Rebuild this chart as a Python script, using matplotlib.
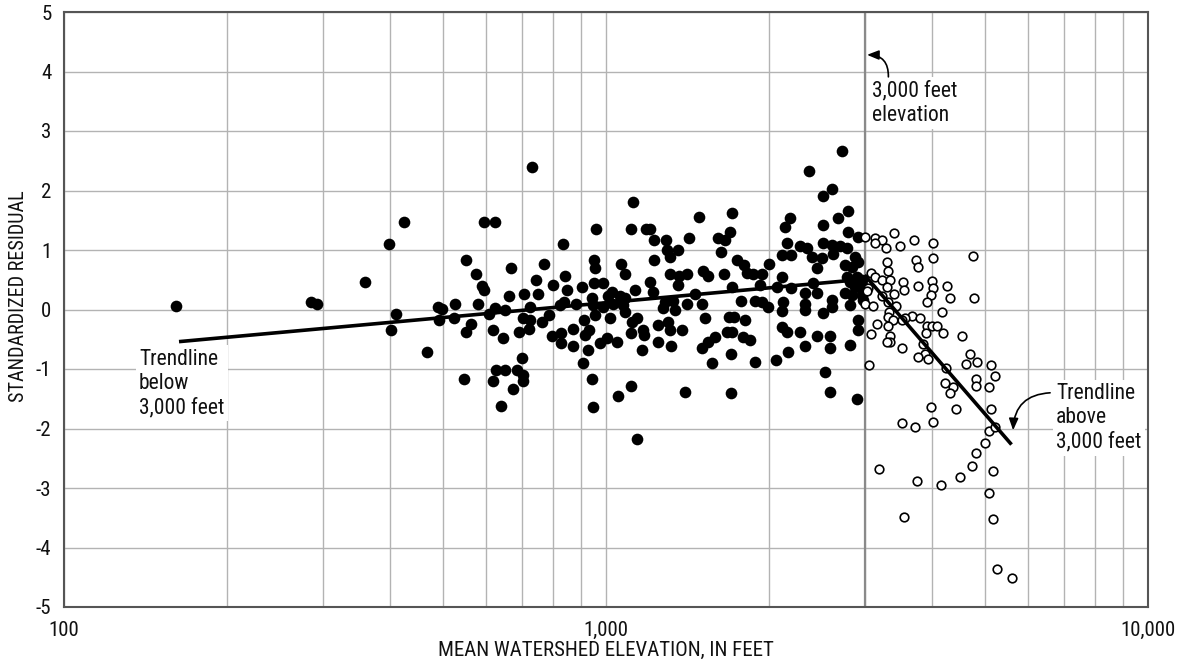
import matplotlib
matplotlib.use("Agg")
import matplotlib.pyplot as plt
from matplotlib import font_manager
from matplotlib.patches import FancyArrowPatch
from matplotlib.ticker import NullFormatter

# ---- pick a condensed sans if one is installed, else a narrow-ish sans ----
_fonts = font_manager.fontManager.ttflist
_names = {f.name for f in _fonts}
FAMILY = None
STRETCH = 'normal'
for cand in ['Liberation Sans Narrow', 'Arial Narrow', 'Roboto Condensed',
             'Open Sans Condensed', 'Noto Sans Condensed', 'DejaVu Sans Condensed']:
    if cand in _names:
        FAMILY = cand
        break
if FAMILY is None:
    for f in _fonts:
        st = f.stretch
        cond = (st in ('condensed', 'semi-condensed', 'extra-condensed')) or \
               (isinstance(st, (int, float)) and st < 500)
        if cond and f.name in ('Noto Sans', 'Roboto', 'Open Sans', 'DejaVu Sans', 'Inter', 'Lato') \
                and str(f.weight) in ('400', 'normal', 'regular', 'book'):
            FAMILY = f.name
            STRETCH = 'condensed'
            break
if FAMILY is None:
    FAMILY = 'Liberation Sans'
    FS_TICK, FS_TEXT, FS_LABEL, FS_YLABEL = 13, 13.5, 13, 13
else:
    FS_TICK, FS_TEXT, FS_LABEL, FS_YLABEL = 15, 15.5, 15, 14.5
plt.rcParams['font.family'] = [FAMILY, 'DejaVu Sans']
plt.rcParams['font.stretch'] = STRETCH

# ---- data: stations below 3,000 feet (filled circles) ----
below_elev = [
    161, 286, 293,
    729, 424, 398, 596, 624, 833, 359, 551, 576, 591, 596, 668, 770, 743, 798, 840, 847,
    663, 705, 750, 527, 581, 489, 498, 409, 402, 491, 524, 563, 552, 608, 623, 652, 618,
    646, 724, 704, 724, 720, 692, 763, 785, 823, 838, 879, 870, 796, 825, 825, 870, 467,
    699, 626, 652, 686, 704, 704, 618, 675, 547, 640,
    1123, 957, 1114, 1184, 1207, 1487, 1711, 1696, 1226, 1290, 1423, 1608, 1658, 1294, 1360,
    1313, 1226, 1632, 949, 1065, 1084, 954, 1313, 1362, 1409, 1512, 1545, 1651, 1743, 1800,
    1818, 1870, 1938, 2002, 1206, 1131, 1223, 1360, 1460, 1711, 1924, 2065, 949, 988, 902,
    1025, 941, 1010, 1062, 1084, 1032, 1076, 988, 948, 1285, 1332, 1276, 1341, 1409, 1502,
    1775, 1884, 1938, 1993, 1084, 954, 1017, 1139, 1116, 909, 1523, 1687, 1723, 1805, 1303,
    1249, 1313, 1380, 1172, 1177, 1111, 932, 913, 1670, 1706, 1792, 1844, 1589, 1545, 1502,
    974, 1003, 1047, 1246, 1317, 1163, 928, 1699, 1567, 1884, 2059, 907, 941, 1054, 1112,
    948, 1399, 1699, 1142,
    2723, 2373, 2610, 2518, 2800, 2684, 2186, 2140, 2518, 2800, 2922, 2155, 2281, 2346, 2518,
    2610, 2703, 2781, 2199, 2108, 2397, 2501, 2627, 2881, 2922, 2761, 2841, 2448, 2781, 2902,
    2964, 2108, 2413, 2821, 2881, 2984, 2199, 2448, 2329, 2761, 2841, 2964, 2124, 2610, 2329,
    2821, 2984, 2610, 2329, 2518, 2108, 2922, 2922, 2108, 2155, 2281, 2448, 2591, 2591, 2821,
    2329, 2169, 2536, 2591, 2902,
]
below_resid = [
    0.06, 0.13, 0.09,
    2.40, 1.47, 1.10, 1.47, 1.47, 1.10, 0.46, 0.83, 0.59, 0.40, 0.32, 0.70, 0.76, 0.50, 0.42, 0.56, 0.33,
    0.23, 0.26, 0.26, 0.09, 0.09, 0.04, 0.01, -0.08, -0.34, -0.18, -0.15, -0.24, -0.38, -0.08, 0.03, -0.01, -0.34,
    -0.48, 0.04, -0.15, -0.18, -0.32, -0.38, -0.21, -0.10, 0.08, 0.13, 0.10, -0.32, -0.45, -0.39, -0.56, -0.61, -0.71,
    -0.82, -1.02, -1.02, -1.02, -1.10, -1.20, -1.20, -1.34, -1.17, -1.62,
    1.80, 1.36, 1.36, 1.36, 1.36, 1.56, 1.63, 1.31, 1.17, 1.17, 1.20, 1.20, 1.17, 1.00, 1.00,
    0.88, 0.83, 0.97, 0.83, 0.76, 0.59, 0.69, 0.59, 0.56, 0.59, 0.64, 0.56, 0.59, 0.83, 0.75,
    0.61, 0.59, 0.59, 0.76, 0.47, 0.33, 0.30, 0.41, 0.26, 0.37, 0.41, 0.38, 0.45, 0.44, 0.37,
    0.30, 0.20, 0.22, 0.22, 0.19, 0.10, 0.08, 0.05, 0.08, 0.13, 0.15, 0.02, -0.01, 0.09, 0.09,
    0.15, 0.15, 0.13, 0.05, -0.04, -0.09, -0.15, -0.15, -0.21, -0.18, -0.15, -0.12, -0.12, -0.18, -0.21,
    -0.26, -0.34, -0.34, -0.34, -0.43, -0.40, -0.34, -0.43, -0.37, -0.37, -0.47, -0.51, -0.47, -0.54, -0.64,
    -0.57, -0.48, -0.54, -0.54, -0.61, -0.68, -0.68, -0.74, -0.90, -0.88, -0.85, -0.90, -1.16, -1.45, -1.29,
    -1.64, -1.38, -1.41, -2.18,
    2.66, 2.33, 2.02, 1.90, 1.66, 1.53, 1.53, 1.39, 1.42, 1.31, 1.22, 1.11, 1.06, 1.03, 1.11,
    1.08, 1.06, 1.03, 0.92, 0.92, 0.89, 0.86, 0.94, 0.89, 0.80, 0.75, 0.72, 0.69, 0.55, 0.55,
    0.50, 0.55, 0.44, 0.47, 0.38, 0.38, 0.36, 0.27, 0.27, 0.27, 0.24, 0.24, 0.13, 0.16, 0.10,
    0.08, 0.16, 0.05, -0.01, -0.06, -0.03, -0.18, -0.34, -0.29, -0.37, -0.37, -0.45, -0.45, -0.65, -0.60,
    -0.61, -0.71, -1.05, -1.38, -1.51,
]

# ---- data: stations above 3,000 feet (open circles) ----
above_elev = [
    3006, 3136, 3227, 3136, 3286, 3400, 3488, 3702, 4018, 4751, 3733, 3770, 4018, 3296, 3319,
    3080, 3136, 3227, 3343, 3296, 3537, 3548, 3770, 3991, 4018, 3974, 4264, 4314, 4783, 3048,
    3028, 3006, 3114, 3227, 3400, 3319, 3907, 4164, 3429, 3333, 3319, 3666, 3798, 3563, 3390,
    3513, 3167, 3319, 3917, 3991, 4087, 4193, 3895, 3080, 3343, 4534, 3343, 3296, 3513, 3841,
    3879, 3770, 3934, 4697, 4831, 4616, 4240, 3062, 5135, 5222, 4223, 4375, 4314, 4817, 4817,
    5091, 3974, 4424, 5129, 3522, 3717, 4018, 5085, 5222, 5005, 4817, 4743, 5172, 4501, 4152,
    3744, 3194, 5091, 3548, 5172, 5259, 5607,
]
above_resid = [
    1.22, 1.20, 1.16, 1.12, 1.03, 1.29, 1.07, 1.16, 1.12, 0.90, 0.83, 0.72, 0.86, 0.80, 0.65,
    0.61, 0.54, 0.50, 0.50, 0.38, 0.47, 0.33, 0.39, 0.48, 0.36, 0.24, 0.39, 0.19, 0.19, 0.36,
    0.31, 0.10, 0.06, 0.23, 0.26, 0.13, 0.13, -0.04, 0.06, -0.04, -0.12, -0.11, -0.15, -0.15, -0.18,
    -0.18, -0.24, -0.28, -0.28, -0.28, -0.28, -0.40, -0.40, -0.41, -0.45, -0.45, -0.54, -0.54, -0.64, -0.58,
    -0.74, -0.79, -0.84, -0.75, -0.88, -0.92, -0.99, -0.94, -0.94, -1.11, -1.24, -1.31, -1.41, -1.17, -1.29,
    -1.31, -1.64, -1.68, -1.68, -1.91, -1.98, -1.89, -2.05, -1.98, -2.25, -2.42, -2.63, -2.71, -2.81, -2.95,
    -2.88, -2.68, -3.09, -3.48, -3.52, -4.36, -4.52,
]

# ---- trendlines ----
trend_below_elev = [163, 3000]
trend_below_resid = [-0.54, 0.51]
trend_above_elev = [3000, 5600]
trend_above_resid = [0.58, -2.27]

x_ticks = [100, 1000, 10000]
x_tick_labels = ['100', '1,000', '10,000']
y_ticks = [-5, -4, -3, -2, -1, 0, 1, 2, 3, 4, 5]
y_tick_labels = ['-5', '-4', '-3', '-2', '-1', '0', '1', '2', '3', '4', '5']
divide_elev = 3000

fig = plt.figure(figsize=(11.8, 6.63), dpi=100)
ax = fig.add_axes([64 / 1180, 56 / 663, 1084 / 1180, 595 / 663])
ax.set_xscale('log')
ax.set_xlim(100, 10000)
ax.set_ylim(-5, 5)

minor = [m * 10 ** e for e in (2, 3) for m in range(2, 10)]
ax.set_xticks(x_ticks)
ax.set_xticklabels(x_tick_labels)
ax.set_xticks(minor, minor=True)
ax.xaxis.set_minor_formatter(NullFormatter())
ax.set_yticks(y_ticks)
ax.set_yticklabels(y_tick_labels)
ax.tick_params(which='both', length=0, labelsize=FS_TICK, colors='#111111')
ax.tick_params(axis='x', pad=10)
ax.tick_params(axis='y', pad=9)

ax.set_axisbelow(True)
ax.grid(True, which='both', axis='x', color='#b3b3b3', lw=1.0)
ax.grid(True, which='major', axis='y', color='#b3b3b3', lw=1.0)
ax.axvline(divide_elev, color='#8a8a8a', lw=1.6, zorder=1)

for s in ax.spines.values():
    s.set_color('#555555')
    s.set_linewidth(1.5)

ax.plot(below_elev, below_resid, 'o', ms=8.4, color='black', mec='black', mew=0, zorder=3)
ax.plot(above_elev, above_resid, 'o', ms=6.2, mfc='white', mec='black', mew=1.2, zorder=4)

ax.plot(trend_below_elev, trend_below_resid, '-', color='black', lw=2.6, zorder=5,
        solid_capstyle='butt')
ax.plot(trend_above_elev, trend_above_resid, '-', color='black', lw=2.6, zorder=5,
        solid_capstyle='butt')

box = dict(facecolor='white', edgecolor='none', pad=2.5)
ax.text(3100, 3.47, '3,000 feet\nelevation', ha='left', va='center', fontsize=FS_TEXT,
        linespacing=1.2, bbox=box, zorder=6, color='#111111')
ax.text(137.5, -1.24, 'Trendline\nbelow\n3,000 feet', ha='left', va='center', fontsize=FS_TEXT,
        linespacing=1.2, bbox=box, zorder=6, color='#111111')
ax.text(6770, -1.82, 'Trendline\nabove\n3,000 feet', ha='left', va='center', fontsize=FS_TEXT,
        linespacing=1.2, bbox=box, zorder=6, color='#111111')

arrow_kw = dict(arrowstyle='-|>,head_length=0.7,head_width=0.28', mutation_scale=10,
                color='black', lw=1.2, shrinkA=0, shrinkB=0, zorder=7)
ax.add_patch(FancyArrowPatch((3319, 3.91), (3031, 4.28),
                             connectionstyle='arc3,rad=0.5', **arrow_kw))
ax.add_patch(FancyArrowPatch((6597, -1.40), (5638, -2.03),
                             connectionstyle='arc3,rad=0.45', **arrow_kw))

ax.set_xlabel('MEAN WATERSHED ELEVATION, IN FEET', fontsize=FS_LABEL, labelpad=1, color='#111111')
ax.set_ylabel('STANDARDIZED RESIDUAL', fontsize=FS_YLABEL, color='#111111')
ax.yaxis.set_label_coords(-0.033, 0.523)

fig.savefig('out.png', dpi=100)
